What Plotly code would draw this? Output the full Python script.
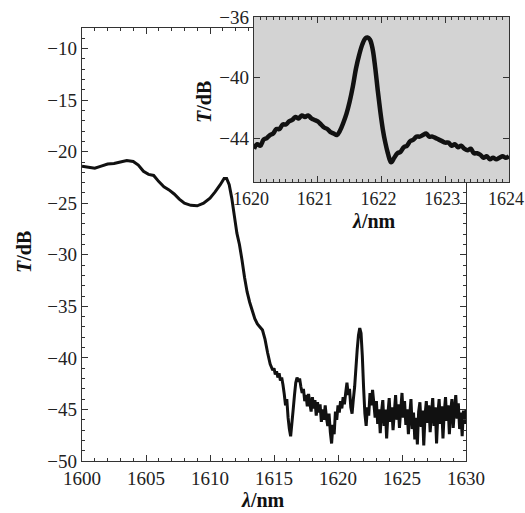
import plotly.graph_objects as go

# ---- main spectrum ----
main_wl = [1600.0, 1600.5, 1601.0, 1601.5, 1602.0, 1602.5, 1603.0, 1603.5, 1604.0, 1604.4,
           1604.8, 1605.2, 1605.6, 1606.0, 1606.4, 1606.8, 1607.2, 1607.6, 1608.0, 1608.5,
           1609.0, 1609.5, 1610.0, 1610.4, 1610.8, 1611.1, 1611.3, 1611.5, 1611.7, 1611.9,
           1612.1, 1612.3, 1612.5, 1612.7, 1612.9, 1613.1, 1613.3, 1613.5, 1613.7, 1613.9,
           1614.1, 1614.3, 1614.5, 1614.7, 1614.9,
           1615.0, 1615.1, 1615.2, 1615.3, 1615.4, 1615.5, 1615.6, 1615.7, 1615.8, 1615.9,
           1616.0, 1616.1, 1616.2, 1616.3, 1616.4, 1616.5, 1616.6, 1616.7, 1616.8, 1616.9,
           1617.0, 1617.1, 1617.2, 1617.3, 1617.4, 1617.5, 1617.6, 1617.7, 1617.8, 1617.9,
           1618.0, 1618.1, 1618.2, 1618.3, 1618.4, 1618.5, 1618.6, 1618.7, 1618.8, 1618.9,
           1619.0, 1619.1, 1619.2, 1619.3, 1619.4, 1619.5, 1619.6, 1619.7, 1619.8, 1619.9,
           1620.0, 1620.1, 1620.2, 1620.3, 1620.4, 1620.5, 1620.6, 1620.7, 1620.8, 1620.9,
           1621.0, 1621.1, 1621.2, 1621.3, 1621.4, 1621.5, 1621.6, 1621.7, 1621.8, 1621.9,
           1622.0, 1622.1, 1622.2, 1622.3, 1622.4, 1622.5, 1622.6, 1622.7, 1622.8, 1622.9,
           1623.0, 1623.1, 1623.2, 1623.3, 1623.4, 1623.5, 1623.6, 1623.7, 1623.8, 1623.9,
           1624.0, 1624.1, 1624.2, 1624.3, 1624.4, 1624.5, 1624.6, 1624.7, 1624.8, 1624.9,
           1625.0, 1625.1, 1625.2, 1625.3, 1625.4, 1625.5, 1625.6, 1625.7, 1625.8, 1625.9,
           1626.0, 1626.1, 1626.2, 1626.3, 1626.4, 1626.5, 1626.6, 1626.7, 1626.8, 1626.9,
           1627.0, 1627.1, 1627.2, 1627.3, 1627.4, 1627.5, 1627.6, 1627.7, 1627.8, 1627.9,
           1628.0, 1628.1, 1628.2, 1628.3, 1628.4, 1628.5, 1628.6, 1628.7, 1628.8, 1628.9,
           1629.0, 1629.1, 1629.2, 1629.3, 1629.4, 1629.5, 1629.6, 1629.7, 1629.8, 1629.9,
           1630.0]
main_T = [-21.4, -21.5, -21.6, -21.4, -21.2, -21.15, -21.0, -20.85, -20.95, -21.3,
          -21.9, -22.2, -22.3, -22.9, -23.4, -23.7, -24.1, -24.6, -25.0, -25.2,
          -25.25, -25.0, -24.5, -23.9, -23.2, -22.6, -22.6, -23.2, -24.5, -26.2,
          -27.9, -29.0, -30.5, -32.2, -33.6, -34.6, -35.4, -36.2, -36.7, -37.0,
          -37.3, -38.2, -39.5, -40.6, -41.2,
          -41.0, -41.6, -41.3, -41.9, -41.5, -42.2, -41.9, -42.6, -43.5, -44.6,
          -44.0, -45.8, -46.9, -47.6, -46.3, -45.0, -43.6, -42.4, -41.9, -42.3,
          -42.0, -42.8, -43.4, -43.0, -44.2, -43.6, -44.7, -43.5, -44.4, -45.2,
          -43.8, -44.9, -44.1, -45.6, -44.3, -45.3, -44.5, -46.2, -45.0, -46.0,
          -44.6, -45.8, -46.6, -45.4, -47.2, -48.3, -46.5, -47.4, -45.2, -46.0,
          -44.6, -45.3, -44.2, -44.9, -43.8, -44.5, -43.4, -42.4, -43.6, -43.0,
          -44.8, -45.4, -44.0, -42.8, -41.0, -39.2, -37.8, -37.1, -37.6, -39.8,
          -42.9, -45.4, -46.6, -44.8, -45.6, -43.4, -44.6, -43.1, -44.4, -45.8,
          -44.2, -46.4, -45.0, -47.3, -45.2, -44.1, -46.6, -45.0, -47.8, -45.4,
          -43.9, -46.2, -44.8, -47.0, -45.3, -43.6, -46.0, -44.5, -46.8, -45.1,
          -43.4, -45.8, -44.2, -46.5, -45.0, -47.4, -45.6, -44.0, -46.9, -45.3,
          -47.9, -45.8, -48.4, -45.2, -44.3, -46.7, -45.1, -48.5, -45.6, -44.2,
          -46.3, -44.6, -47.2, -45.4, -43.9, -46.6, -44.8, -48.3, -45.5, -44.0,
          -46.4, -44.7, -47.8, -45.3, -43.8, -46.1, -44.6, -47.4, -45.2, -44.0,
          -46.8, -45.0, -43.6, -45.9, -44.4, -46.9, -45.3, -47.6, -45.1, -46.4,
          -45.0]

# ---- inset (zoom around 1622 nm) ----
inset_wl = [1620.00, 1620.05, 1620.10, 1620.15, 1620.20, 1620.25, 1620.30, 1620.35, 1620.40, 1620.45,
            1620.50, 1620.55, 1620.60, 1620.65, 1620.70, 1620.75, 1620.80, 1620.85, 1620.90, 1620.95,
            1621.00, 1621.05, 1621.10, 1621.15, 1621.20, 1621.25, 1621.30, 1621.35, 1621.40, 1621.45,
            1621.50, 1621.55, 1621.60, 1621.65, 1621.70, 1621.75, 1621.78, 1621.82, 1621.86, 1621.90,
            1621.94, 1621.98, 1622.02, 1622.06, 1622.10, 1622.15, 1622.20, 1622.25, 1622.30, 1622.35,
            1622.40, 1622.45, 1622.50, 1622.55, 1622.60, 1622.65, 1622.70, 1622.75, 1622.80, 1622.85,
            1622.90, 1622.95, 1623.00, 1623.05, 1623.10, 1623.15, 1623.20, 1623.25, 1623.30, 1623.35,
            1623.40, 1623.45, 1623.50, 1623.55, 1623.60, 1623.65, 1623.70, 1623.75, 1623.80, 1623.85,
            1623.90, 1623.95, 1624.00]
inset_T = [-44.7, -44.4, -44.5, -44.1, -44.0, -43.8, -43.7, -43.4, -43.4, -43.1,
           -43.1, -42.9, -42.8, -42.6, -42.7, -42.5, -42.6, -42.5, -42.7, -42.8,
           -42.9, -43.1, -43.3, -43.4, -43.6, -43.7, -43.8, -43.5, -43.0, -42.4,
           -41.6, -40.6, -39.4, -38.5, -37.8, -37.4, -37.35, -37.5, -38.1, -39.3,
           -40.8, -42.2, -43.4, -44.3, -45.0, -45.6, -45.3, -45.0, -44.9, -44.6,
           -44.5, -44.2, -44.1, -43.9, -43.9, -43.8, -43.7, -43.9, -43.9, -44.0,
           -44.1, -44.2, -44.3, -44.3, -44.5, -44.4, -44.6, -44.5, -44.7, -44.8,
           -44.7, -45.0, -45.0, -45.1, -45.3, -45.2, -45.4, -45.3, -45.4, -45.3,
           -45.2, -45.3, -45.2]

main_xticks = [1600, 1605, 1610, 1615, 1620, 1625, 1630]
main_yticks = [-50, -45, -40, -35, -30, -25, -20, -15, -10]
inset_xticks = [1620, 1621, 1622, 1623, 1624]
inset_yticks = [-44, -40, -36]
main_xrange = [1600, 1630]
main_yrange = [-50, -8]
inset_xrange = [1620, 1624]
inset_yrange = [-46.9, -36]

W, H = 525, 513
FONT = "Liberation Serif"
AX = "#333333"

fig = go.Figure()
fig.add_trace(go.Scatter(x=main_wl, y=main_T, mode="lines",
                         line=dict(color="#111111", width=3.0, simplify=False),
                         xaxis="x", yaxis="y", showlegend=False))
fig.add_trace(go.Scatter(x=inset_wl, y=inset_T, mode="lines",
                         line=dict(color="#111111", width=4.5, shape="spline", simplify=False),
                         xaxis="x2", yaxis="y2", showlegend=False))

def px(xp):
    return xp / W

def py(yp):
    return 1 - yp / H

common = dict(showgrid=False, zeroline=False, showline=True, linecolor=AX, linewidth=1.3,
              ticks="inside", tickcolor=AX, tickwidth=1.2, mirror="ticks", automargin=False,
              ticklabeloverflow="allow")
tfont = dict(family=FONT, size=19, color="#222222")

fig.update_layout(
    width=W, height=H, autosize=False,
    margin=dict(l=0, r=0, t=0, b=0, pad=0, autoexpand=False),
    paper_bgcolor="white", plot_bgcolor="white",
    xaxis=dict(domain=[px(82), px(466)], range=main_xrange, tickvals=main_xticks,
               ticklen=6, minor=dict(dtick=1, ticks="inside", ticklen=3, tickcolor=AX),
               anchor="y", tickfont=tfont, **common),
    yaxis=dict(domain=[py(461), py(28)], range=main_yrange, tickvals=main_yticks,
               ticklen=6, minor=dict(dtick=1, ticks="inside", ticklen=3, tickcolor=AX),
               anchor="x", tickfont=tfont, **common),
    xaxis2=dict(domain=[px(254), px(509)], range=inset_xrange, tickvals=inset_xticks,
                ticklen=6, minor=dict(dtick=0.1, ticks="inside", ticklen=3, tickcolor=AX),
                anchor="y2", tickfont=dict(family=FONT, size=18, color="#222222"),
                ticklabelshift=-3, **common),
    yaxis2=dict(domain=[py(182), py(17)], range=inset_yrange, tickvals=inset_yticks,
                ticklen=6, anchor="x2", tickfont=tfont, **common),
)

anns = [
    dict(text="<b><i>T</i>/dB</b>", x=px(24), y=py(252), textangle=-90),
    dict(text="<b><i>λ</i>/nm</b>", x=px(263), y=py(500), textangle=0),
    dict(text="<b><i>T</i>/dB</b>", x=px(204), y=py(102), textangle=-90),
    dict(text="<b><i>λ</i>/nm</b>", x=px(374), y=py(221), textangle=0),
]
for a in anns:
    fig.add_annotation(xref="paper", yref="paper", showarrow=False,
                       xanchor="center", yanchor="middle",
                       font=dict(family=FONT, size=20, color="#111111"), **a)

# gray background of the inset, beneath its trace (drawn in the inset subplot's layer)
fig.add_shape(type="rect", xref="x2", yref="y2",
              x0=inset_xrange[0], x1=inset_xrange[1], y0=inset_yrange[0], y1=inset_yrange[1],
              fillcolor="#d3d3d3", line=dict(width=0), layer="below")

fig.write_html("out.html", config={"displayModeBar": False},
               post_script="document.body.style.margin='0';document.body.style.overflow='hidden';")
